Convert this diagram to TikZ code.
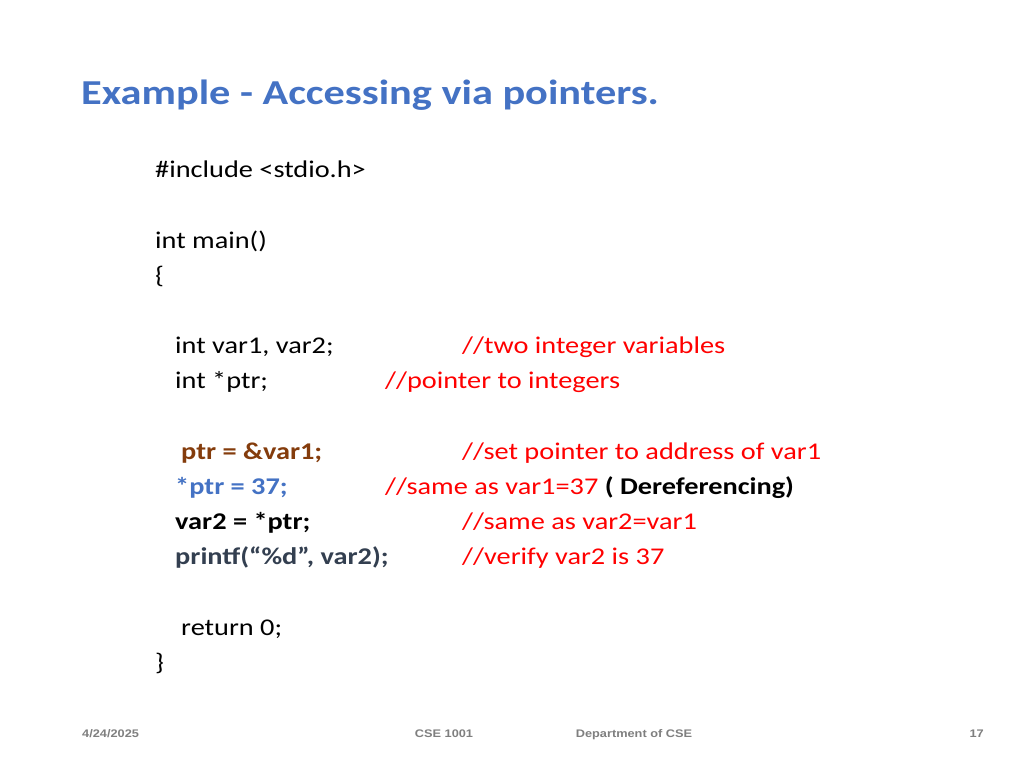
\documentclass[tikz,border=0pt]{standalone}
\usepackage{fontspec}
\setmainfont{Carlito}
\newfontfamily\arialf{Liberation Sans}
\definecolor{ttl}{HTML}{4472C4}
\definecolor{cred}{HTML}{FF0000}
\definecolor{brn}{HTML}{843C0C}
\definecolor{slate}{HTML}{333F50}
\definecolor{foot}{HTML}{7F7F7F}
\begin{document}
\begin{tikzpicture}[x=1pt,y=-1pt,
  code/.style={anchor=base west,inner sep=0pt,xscale=1.18,font=\fontsize{24}{28}\selectfont},
  cmt/.style={code,text=cred},
  ft/.style={anchor=base,inner sep=0pt,xscale=1.16,text=foot,font=\arialf\bfseries\fontsize{11}{13}\selectfont}]
\useasboundingbox[fill=white] (0,0) rectangle (1024,768);
\node[anchor=base west,inner sep=0pt,xscale=1.21,text=ttl,font=\bfseries\fontsize{35}{40}\selectfont] (title) at (81,104) {Example - Accessing via pointers.};
\node[code] (l1) at (155,177) {\#include <stdio.h>};
\node[code] (l2) at (155,248) {int main()};
\node[code] (l3) at (155,283) {\{};
\node[code] (l4) at (175,353) {int var1, var2;};
\node[cmt] (c4) at (462,353) {//two integer variables};
\node[code] (l5) at (175,388) {int *ptr;};
\node[cmt] (c5) at (385,388) {//pointer to integers};
\node[code,text=brn,font=\bfseries\fontsize{24}{28}\selectfont] (l6) at (181,459) {ptr = \&var1;};
\node[cmt] (c6) at (462,459) {//set pointer to address of var1};
\node[code,text=ttl,font=\bfseries\fontsize{24}{28}\selectfont] (l7) at (175,494) {*ptr = 37;};
\node[cmt] (c7) at (385,494) {//same as var1=37 \textcolor{black}{\bfseries ( Dereferencing)}};
\node[code,font=\bfseries\fontsize{24}{28}\selectfont] (l8) at (175,529) {var2 = *ptr;};
\node[cmt] (c8) at (462,529) {//same as var2=var1};
\node[code,text=slate,font=\bfseries\fontsize{24}{28}\selectfont] (l9) at (175,564) {printf(“\%d”, var2);};
\node[cmt] (c9) at (462,564) {//verify var2 is 37};
\node[code] (l10) at (181,635) {return 0;};
\node[code] (l11) at (155,670) {\}};
\node[ft,anchor=base west] (f1) at (82,737) {4/24/2025};
\node[ft] (f2) at (444,737) {CSE 1001};
\node[ft] (f3) at (634,737) {Department of CSE};
\node[ft,anchor=base east] (f4) at (984,737) {17};
\end{tikzpicture}
\end{document}
